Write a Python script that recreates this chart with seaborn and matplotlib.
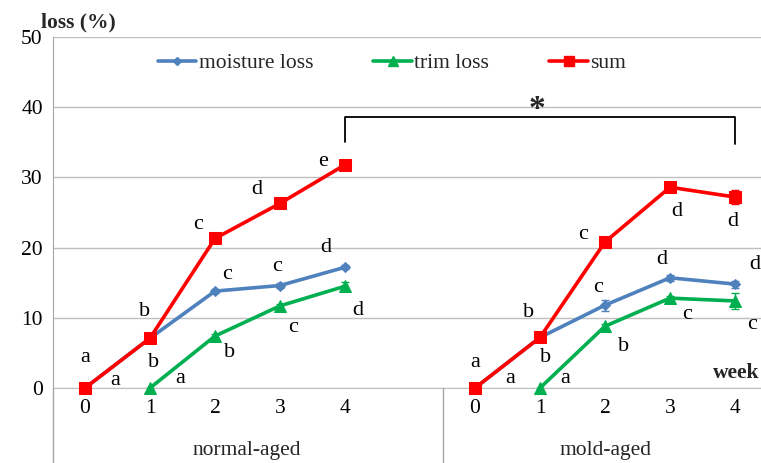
import matplotlib
matplotlib.use("Agg")
import matplotlib.pyplot as plt
from matplotlib.lines import Line2D
import numpy as np
import pandas as pd
import seaborn as sns

# Data (weeks 0-4, normal-aged then mold-aged)
weeks = [0, 1, 2, 3, 4]
groups = ["normal-aged", "mold-aged"]
moisture_normal = [0, 7.1, 13.8, 14.6, 17.2]
moisture_mold = [0, 7.2, 11.8, 15.7, 14.8]
trim_normal = [np.nan, 0, 7.4, 11.7, 14.5]
trim_mold = [np.nan, 0, 8.8, 12.8, 12.4]
sum_normal = [0, 7.1, 21.3, 26.3, 31.8]
sum_mold = [0, 7.2, 20.8, 28.6, 27.2]
moisture_err_normal = [0, 0.3, 0.3, 0.3, 0.3]
moisture_err_mold = [0, 0.3, 0.8, 0.4, 0.5]
trim_err_normal = [0, 0, 0.3, 0.3, 0.6]
trim_err_mold = [0, 0, 0.3, 0.3, 1.2]
sum_err_normal = [0, 0.3, 0.3, 0.3, 0.6]
sum_err_mold = [0, 0.3, 0.3, 0.3, 1.0]

# significance letters and where they sit (category index, loss)
letters = ["a", "a", "b", "b", "a", "c", "c", "b", "d", "c", "c", "e", "d", "d",
           "a", "a", "b", "b", "a", "c", "c", "b", "d", "d", "c", "d", "d", "c"]
letter_x = [0.0, 0.46, 0.92, 1.05, 1.46, 1.74, 2.18, 2.23, 2.65, 2.95, 3.2, 3.66, 3.7, 4.2,
            6.0, 6.54, 6.82, 7.08, 7.38, 7.66, 7.89, 8.28, 9.11, 8.88, 9.26, 9.96, 10.3, 10.26]
letter_y = [4.4, 1.1, 10.9, 3.7, 1.4, 23.3, 16.1, 5.1, 28.3, 17.3, 8.6, 32.3, 20.0, 11.1,
            3.6, 1.4, 10.7, 4.3, 1.4, 21.9, 14.3, 5.9, 25.1, 18.3, 10.4, 23.7, 17.6, 9.0]

series = {
    "moisture loss": (moisture_normal, moisture_mold, moisture_err_normal, moisture_err_mold),
    "trim loss": (trim_normal, trim_mold, trim_err_normal, trim_err_mold),
    "sum": (sum_normal, sum_mold, sum_err_normal, sum_err_mold),
}
colors = {"moisture loss": "#4F81BD", "trim loss": "#00B050", "sum": "#FF0000"}
markers = {"moisture loss": "D", "trim loss": "^", "sum": "s"}
msizes = {"moisture loss": 5, "trim loss": 8, "sum": 8}

# long table: mold-aged categories sit after one empty slot
rows = []
for name, (vn, vm, en, em) in series.items():
    for i, w in enumerate(weeks):
        rows.append({"series": name, "group": groups[0], "pos": i, "loss": vn[i], "err": en[i]})
        rows.append({"series": name, "group": groups[1], "pos": i + 6, "loss": vm[i], "err": em[i]})
df = pd.DataFrame(rows).dropna()

sns.set_style("white")
plt.rcParams["font.family"] = ["Liberation Serif", "DejaVu Serif"]

fig = plt.figure(figsize=(7.61, 4.63), dpi=100)
ax = fig.add_axes([52.5 / 761, 75 / 463, 708.5 / 761, 351 / 463])

for name in series:
    for g in groups:
        d = df[(df["series"] == name) & (df["group"] == g)]
        sns.lineplot(data=d, x="pos", y="loss", ax=ax, color=colors[name],
                     marker=markers[name], markersize=msizes[name],
                     markeredgecolor=colors[name], linewidth=2.6, zorder=3,
                     clip_on=False)
        ax.errorbar(d["pos"], d["loss"], yerr=d["err"], fmt="none",
                    ecolor=colors[name], elinewidth=1, capsize=3, zorder=2)

for t, x, y in zip(letters, letter_x, letter_y):
    ax.text(x, y, t, fontsize=16, ha="center", va="center", color="black")

ax.set_xlim(-0.5, -0.5 + 708.5 / 65)
ax.set_ylim(0, 50)
ax.set_yticks(range(0, 51, 10))
ax.set_xticks(weeks + [w + 6 for w in weeks])
ax.set_xticklabels([str(w) for w in weeks] * 2)
ax.tick_params(axis="both", length=0, labelsize=15.5, colors="black")
ax.tick_params(axis="y", pad=7)
ax.tick_params(axis="x", pad=8)
ax.set_xlabel("")
ax.set_ylabel("")
ax.grid(axis="y", color="#BFBFBF", linewidth=1)
ax.set_axisbelow(True)
for s in ["top", "right"]:
    ax.spines[s].set_visible(False)
ax.spines["left"].set_color("#A6A6A6")
ax.spines["bottom"].set_color("#BFBFBF")

# significance bracket between the two week-4 sums
ax.plot([4, 4, 10, 10], [35.0, 38.6, 38.6, 34.7], color="black", linewidth=1.3, zorder=4)
ax.text(6.95, 39.7, "*", fontsize=24, ha="center", va="center", fontweight="bold")

# group separators below the axis
fig.add_artist(Line2D([52.5 / 761, 52.5 / 761], [0, 75 / 463], color="#A6A6A6", linewidth=1))
fig.add_artist(Line2D([442.5 / 761, 442.5 / 761], [0, 75 / 463], color="#A6A6A6", linewidth=1))
fig.text(247 / 761, 1 - 451 / 463, groups[0], fontsize=15.5, ha="center", va="center")
fig.text(606 / 761, 1 - 451 / 463, groups[1], fontsize=15.5, ha="center", va="center")

fig.text(41 / 761, 1 - 22 / 463, "loss (%)", fontsize=15.5, fontweight="bold", ha="left", va="center")
fig.text(759 / 761, 1 - 373 / 463, "week", fontsize=15.5, fontweight="bold", ha="right", va="center")

handles = [Line2D([0], [0], color=colors[n], marker=markers[n], markersize=msizes[n] - 1,
                  linewidth=2.6) for n in series]
fig.legend(handles, list(series.keys()), loc="center", bbox_to_anchor=(392 / 761, 1 - 63 / 463),
           ncol=3, frameon=False, fontsize=15.5, handlelength=1.8, handletextpad=0.1,
           columnspacing=2.8)

fig.savefig("out.png", dpi=100)
